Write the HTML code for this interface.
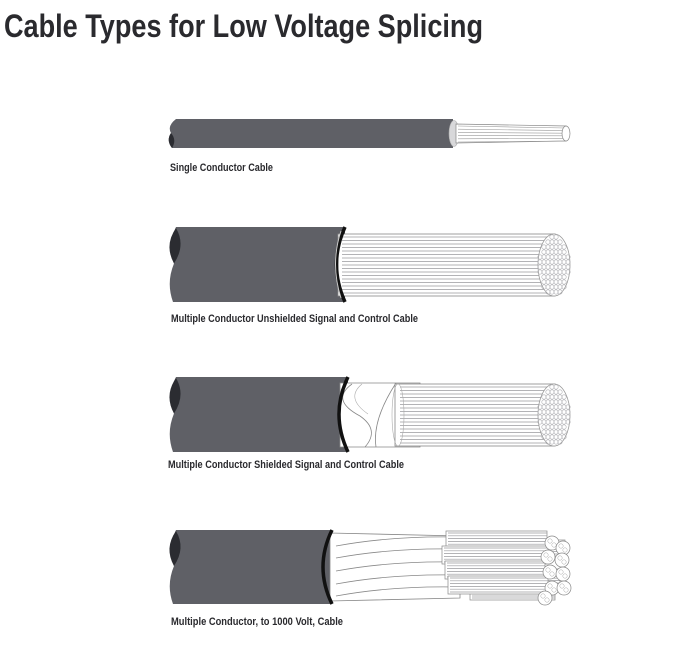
<!DOCTYPE html>
<html><head><meta charset="utf-8"><style>
html,body{margin:0;padding:0;background:#fff;width:680px;height:655px;overflow:hidden}
svg{display:block}
text{font-family:"Liberation Sans",sans-serif;fill:#2a2a2e}
</style></head><body>
<svg id="s" width="680" height="655" viewBox="0 0 680 655" xmlns="http://www.w3.org/2000/svg">
<text x="4" y="37" font-size="32" font-weight="bold" textLength="479" lengthAdjust="spacingAndGlyphs" fill="#2b2d33">Cable Types for Low Voltage Splicing</text>
<text x="170" y="171" font-size="11" font-weight="bold" textLength="103" lengthAdjust="spacingAndGlyphs">Single Conductor Cable</text>
<text x="171" y="322" font-size="11" font-weight="bold" textLength="247" lengthAdjust="spacingAndGlyphs">Multiple Conductor Unshielded Signal and Control Cable</text>
<text x="168" y="468" font-size="11" font-weight="bold" textLength="236" lengthAdjust="spacingAndGlyphs">Multiple Conductor Shielded Signal and Control Cable</text>
<text x="171" y="625" font-size="11" font-weight="bold" textLength="172" lengthAdjust="spacingAndGlyphs">Multiple Conductor, to 1000 Volt, Cable</text>
<g id="g"></g>
</svg>
<script>
var g=document.getElementById('g'),h='';
function jacket(T,B,E,L){L=L||167;var m=(T+B)/2-1;
h+='<path d="M'+(L+9)+','+T+' L'+E+','+T+' L'+E+','+B+' L'+(L+6)+','+B+' Q'+(L-1)+','+((m+B)/2)+' '+(L+7)+','+m+' Q'+L+','+((T+m)/2)+' '+(L+9)+','+T+' Z" fill="#5f6066"/>';
h+='<path d="M'+(L+9)+','+(T+1)+' Q'+(L-3)+','+((T+m)/2)+' '+(L+7)+','+m+' Q'+(L+19)+','+((T+m)/2)+' '+(L+9)+','+(T+1)+' Z" fill="#2b2c31"/>';}
function strands(x1,x2,T,B,n){var s='';for(var i=0;i<=n;i++){var y=T+(B-T)*i/n;s+='<line x1="'+x1+'" y1="'+y+'" x2="'+x2+'" y2="'+y+'" stroke="#9a9a9e" stroke-width="0.7"/>';}return s;}
function mesh(cx,cy,rx,ry){var s='<ellipse cx="'+cx+'" cy="'+cy+'" rx="'+rx+'" ry="'+ry+'" fill="#fff" stroke="#999" stroke-width="0.8"/>';
for(var y=-ry+3;y<ry;y+=5)for(var x=-rx+2;x<rx;x+=4){if((x*x)/(rx*rx)+(y*y)/(ry*ry)<0.9)s+='<circle cx="'+(cx+x)+'" cy="'+(cy+y)+'" r="2.2" fill="none" stroke="#b0b0b4" stroke-width="0.6"/>';}return s;}
// cable 1
h+='<path d="M176,119 L453,119 L453,148 L172,148 Q166,141 171,133 Q167,126 176,119 Z" fill="#5f6066"/>';
h+='<path d="M171,133 Q166,140 172,148 Q177,140 171,133 Z" fill="#2b2c31"/>';
h+='<ellipse cx="454" cy="133.5" rx="5" ry="13" fill="#d8d8da" stroke="#aaa" stroke-width="0.6"/>';
h+='<path d="M456,124 L566,126 L566,141 L456,143 Z" fill="#fff" stroke="#888" stroke-width="0.7"/>';
for(var i=0;i<6;i++){var a=126+i*3.2,b=128+i*2.6;h+='<line x1="458" y1="'+a+'" x2="565" y2="'+b+'" stroke="#999" stroke-width="0.6"/>';}
h+='<ellipse cx="566" cy="133.5" rx="4" ry="7.5" fill="#fff" stroke="#888" stroke-width="0.7"/>';
// cable 2
jacket(227,302,345);
h+='<rect x="338" y="234" width="217" height="62" fill="#fff" stroke="#888" stroke-width="0.8"/>'+strands(342,550,237,293,16);
h+='<path d="M345,227 Q328,264 345,302" fill="none" stroke="#111" stroke-width="3.5"/><path d="M341,231 Q330,264 341,298" fill="none" stroke="#ccc" stroke-width="1"/>';
h+=mesh(554,265,16,31);
// cable 3
jacket(377,452,348);
h+='<path d="M340,383 L420,383 L420,447 L340,447 Z" fill="#fff" stroke="#888" stroke-width="0.8"/>';
h+='<path d="M352,384 Q330,400 360,416 Q380,430 365,447" fill="none" stroke="#888" stroke-width="0.8"/><path d="M396,383 Q372,420 376,447" fill="none" stroke="#888" stroke-width="0.8"/><path d="M362,384 Q345,398 368,414" fill="none" stroke="#aaa" stroke-width="0.6"/>';
h+='<rect x="395" y="384" width="160" height="62" fill="#fff" stroke="#888" stroke-width="0.8"/>'+strands(400,550,387,443,16);
h+='<ellipse cx="398" cy="415" rx="6" ry="31" fill="none" stroke="#aaa" stroke-width="0.6"/>';
h+='<path d="M348,377 Q330,414 348,452" fill="none" stroke="#111" stroke-width="3.5"/>';
h+=mesh(554,415,16,31);
// cable 4
jacket(530,604,332);
h+='<path d="M330,533 L460,536 L460,598 L330,601 Z" fill="#fff" stroke="#888" stroke-width="0.8"/>';
var fy=[540,552,565,578,590];for(var i=0;i<5;i++)h+='<path d="M336,'+(fy[i]+6)+' Q390,'+(fy[i]-4)+' 455,'+(fy[i]-3)+'" fill="none" stroke="#888" stroke-width="0.8"/>';
h+='<path d="M332,530 Q314,567 332,604" fill="none" stroke="#111" stroke-width="3.5"/>';
var bun=[[470,548,565,8],[470,577,560,8],[470,593,555,7],[446,540,547,9],[442,555,548,9],[445,570,545,9],[448,585,548,9]];
bun.forEach(function(b){h+='<rect x="'+b[0]+'" y="'+(b[1]-b[3])+'" width="'+(b[2]-b[0])+'" height="'+(2*b[3])+'" fill="#fff" stroke="#888" stroke-width="0.7"/>'+strands(b[0]+2,b[2],b[1]-b[3]+2,b[1]+b[3]-2,5);});
var ends=[[552,543],[563,548],[548,557],[562,560],[550,572],[563,574],[552,588],[564,588],[545,598]];
ends.forEach(function(e){h+='<circle cx="'+e[0]+'" cy="'+e[1]+'" r="7" fill="#fff" stroke="#888" stroke-width="0.7"/><circle cx="'+(e[0]-2)+'" cy="'+(e[1]-2)+'" r="2.2" fill="none" stroke="#aaa" stroke-width="0.5"/><circle cx="'+(e[0]+2)+'" cy="'+(e[1]+2)+'" r="2.2" fill="none" stroke="#aaa" stroke-width="0.5"/>';});
g.innerHTML=h;
</script>
</body></html>
